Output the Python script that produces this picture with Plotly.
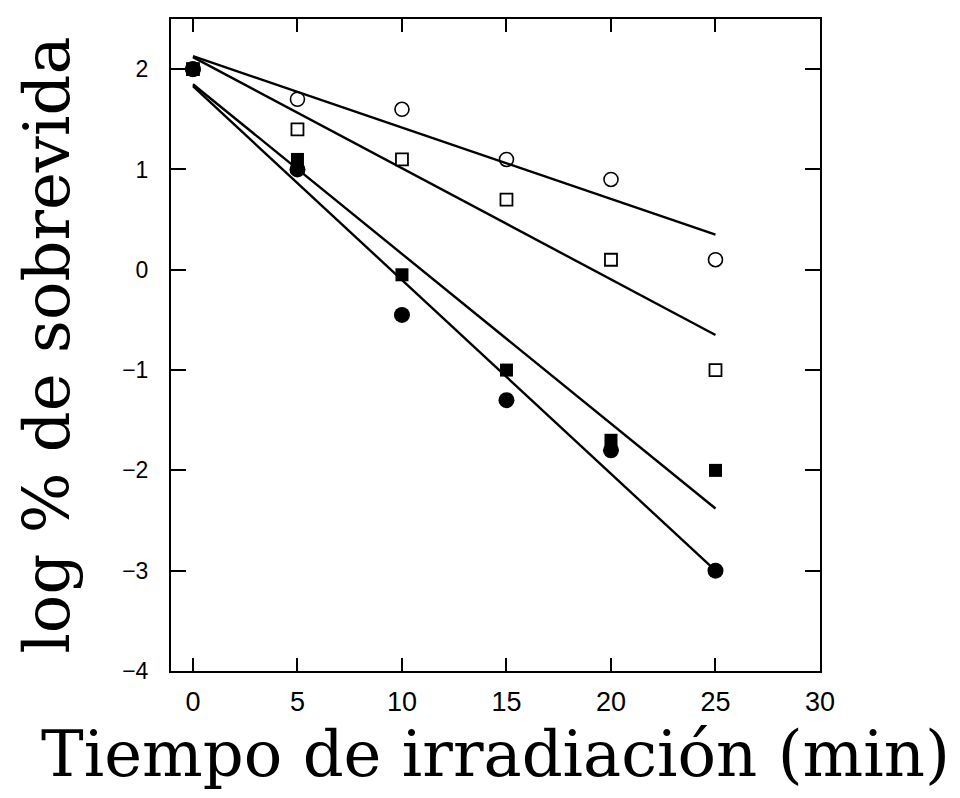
import plotly.graph_objects as go

# Data
time_min = [0, 5, 10, 15, 20, 25]
open_circle = [2.0, 1.7, 1.6, 1.1, 0.9, 0.1]
open_square = [2.0, 1.4, 1.1, 0.7, 0.1, -1.0]
filled_square = [2.0, 1.1, -0.05, -1.0, -1.7, -2.0]
filled_circle = [2.0, 1.0, -0.45, -1.3, -1.8, -3.0]

# Fitted regression lines: value at t=0 and t=25
fit_x = [0, 25]
fit_open_circle = [2.13, 0.35]
fit_open_square = [2.12, -0.65]
fit_filled_square = [1.85, -2.38]
fit_filled_circle = [1.83, -3.0]

x_ticks = [0, 5, 10, 15, 20, 25, 30]
y_ticks = [-4, -3, -2, -1, 0, 1, 2]
y_tick_text = ["\u22124", "\u22123", "\u22122", "\u22121", "0", "1", "2"]

fig = go.Figure()

line_style = dict(color="black", width=2.4)
for fy in [fit_open_circle, fit_open_square, fit_filled_square, fit_filled_circle]:
    fig.add_trace(go.Scatter(x=fit_x, y=fy, mode="lines", line=line_style,
                             showlegend=False, hoverinfo="skip"))

fig.add_trace(go.Scatter(x=time_min, y=open_circle, mode="markers",
                         marker=dict(symbol="circle-open", size=14, color="black",
                                     line=dict(width=1.6, color="black")),
                         showlegend=False))
fig.add_trace(go.Scatter(x=time_min, y=open_square, mode="markers",
                         marker=dict(symbol="square", size=12, color="white",
                                     line=dict(width=1.8, color="black")),
                         showlegend=False))
fig.add_trace(go.Scatter(x=time_min, y=filled_square, mode="markers",
                         marker=dict(symbol="square", size=13, color="black",
                                     line=dict(width=0)),
                         showlegend=False))
fig.add_trace(go.Scatter(x=time_min, y=filled_circle, mode="markers",
                         marker=dict(symbol="circle", size=16, color="black",
                                     line=dict(width=0)),
                         showlegend=False))

x_tick_font = dict(family="Liberation Sans, Arial, sans-serif", size=27, color="black")
y_tick_font = dict(family="Liberation Sans, Arial, sans-serif", size=23, color="black")
title_font = dict(family="DejaVu Serif, serif", size=64, color="black")

fig.update_xaxes(
    range=[-1.05, 30], tickvals=x_ticks, ticktext=[str(v) for v in x_ticks],
    ticks="inside", ticklen=13, tickwidth=2, tickcolor="black",
    showline=True, linecolor="black", linewidth=2, mirror="ticks",
    showgrid=False, zeroline=False, tickfont=x_tick_font,
    title=dict(text="Tiempo de irradiación (min)", font=title_font, standoff=8),
    ticklabelstandoff=6,
)
fig.update_yaxes(
    range=[-4, 2.5], tickvals=y_ticks, ticktext=y_tick_text,
    ticks="inside", ticklen=15, tickwidth=2, tickcolor="black",
    showline=True, linecolor="black", linewidth=2, mirror="ticks",
    showgrid=False, zeroline=False, tickfont=y_tick_font,
    title=dict(text="log % de sobrevida", font=title_font, standoff=32),
    ticklabelstandoff=16,
)

fig.update_layout(
    width=960, height=798,
    margin=dict(l=171, r=140, t=19, b=127, autoexpand=False),
    plot_bgcolor="white", paper_bgcolor="white",
    showlegend=False,
)

fig.write_html("out.html")
